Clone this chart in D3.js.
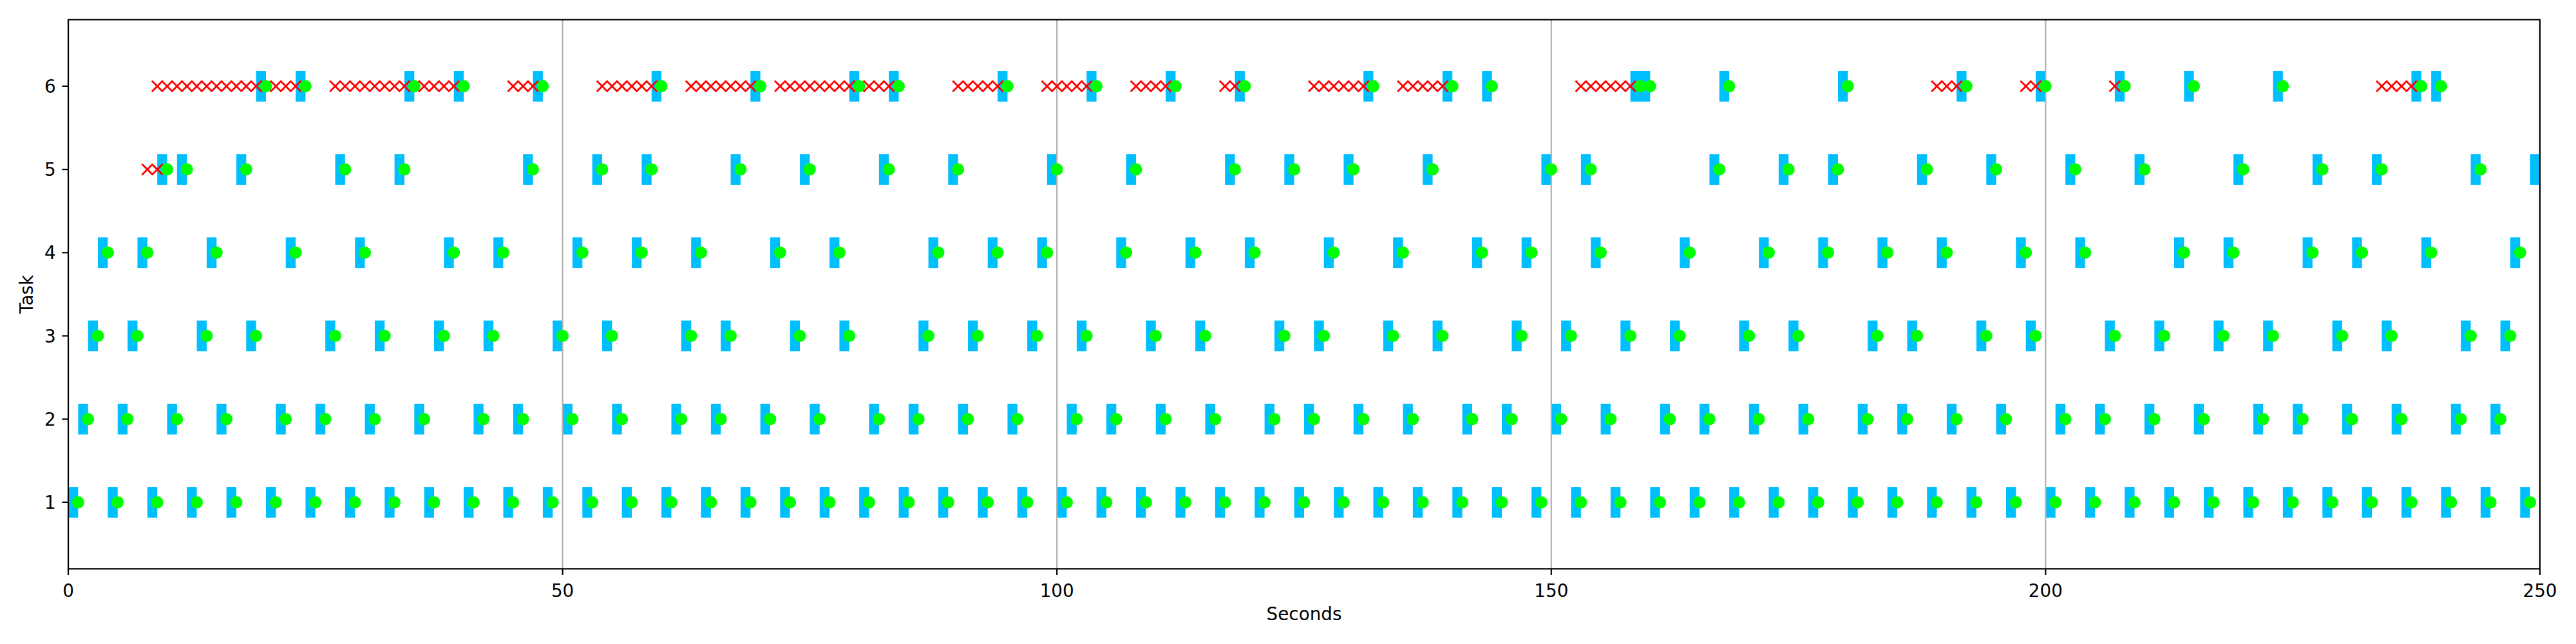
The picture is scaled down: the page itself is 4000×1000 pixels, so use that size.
<!DOCTYPE html>
<html>
<head>
<meta charset="utf-8">
<script src="https://cdn.jsdelivr.net/npm/d3@7"></script>
<style>
  html, body { margin: 0; padding: 0; background: #ffffff; }
  svg { display: block; }
</style>
</head>
<body>
<div id="chart"></div>
<script>
// ---------------- DATA ----------------
const tasks = [1, 2, 3, 4, 5, 6];
const xTicks = [0, 50, 100, 150, 200, 250];
const xTickLabels = ["0", "50", "100", "150", "200", "250"];
const yTickLabels = ["1", "2", "3", "4", "5", "6"];

// execution slots (start second of each 1-second run)
const runs1 = [0,4,8,12,16,20,24,28,32,36,40,44,48,52,56,60,64,68,72,76,80,84,88,92,96,100,104,108,112,116,120,124,128,132,136,140,144,148,152,156,160,164,168,172,176,180,184,188,192,196,200,204,208,212,216,220,224,228,232,236,240,244,248];
const runs2 = [1,5,10,15,21,25,30,35,41,45,50,55,61,65,70,75,81,85,90,95,101,105,110,115,121,125,130,135,141,145,150,155,161,165,170,175,181,185,190,195,201,205,210,215,221,225,230,235,241,245];
const runs3 = [2,6,13,18,26,31,37,42,49,54,62,66,73,78,86,91,97,102,109,114,122,126,133,138,146,151,157,162,169,174,182,186,193,198,206,211,217,222,229,234,242,246];
const runs4 = [3,7,14,22,29,38,43,51,57,63,71,77,87,93,98,106,113,119,127,134,142,147,154,163,171,177,183,189,197,203,213,218,226,231,238,247];
const runs5 = [9,11,17,27,33,46,53,58,67,74,82,89,99,107,117,123,129,137,149,153,166,173,178,187,194,202,209,219,227,233,243,249];
const runs6 = [19,23,34,39,47,59,69,79,83,94,103,111,118,131,139,143,158,159,167,179,191,199,207,214,223,237,239];

// job completions (green dots)
const done1 = [1,5,9,13,17,21,25,29,33,37,41,45,49,53,57,61,65,69,73,77,81,85,89,93,97,101,105,109,113,117,121,125,129,133,137,141,145,149,153,157,161,165,169,173,177,181,185,189,193,197,201,205,209,213,217,221,225,229,233,237,241,245,249];
const done2 = [2,6,11,16,22,26,31,36,42,46,51,56,62,66,71,76,82,86,91,96,102,106,111,116,122,126,131,136,142,146,151,156,162,166,171,176,182,186,191,196,202,206,211,216,222,226,231,236,242,246];
const done3 = [3,7,14,19,27,32,38,43,50,55,63,67,74,79,87,92,98,103,110,115,123,127,134,139,147,152,158,163,170,175,183,187,194,199,207,212,218,223,230,235,243,247];
const done4 = [4,8,15,23,30,39,44,52,58,64,72,78,88,94,99,107,114,120,128,135,143,148,155,164,172,178,184,190,198,204,214,219,227,232,239,248];
const done5 = [10,12,18,28,34,47,54,59,68,75,83,90,100,108,118,124,130,138,150,154,167,174,179,188,195,203,210,220,228,234,244];
const done6 = [20,24,35,40,48,60,70,80,84,95,104,112,119,132,140,144,159,160,168,180,192,200,208,215,224,238,240];

// waiting / missed seconds (red crosses)
const miss5 = [8,9];
const miss6 = [9,10,11,12,13,14,15,16,17,18,19,20,21,22,23,
               27,28,29,30,31,32,33,34,35,36,37,38,39,
               45,46,47,
               54,55,56,57,58,59,
               63,64,65,66,67,68,69,
               72,73,74,75,76,77,78,79,80,81,82,83,
               90,91,92,93,94,
               99,100,101,102,103,
               108,109,110,111,
               117,118,
               126,127,128,129,130,131,
               135,136,137,138,139,
               153,154,155,156,157,158,
               189,190,191,
               198,199,
               207,
               234,235,236,237];

const runsByTask = [runs1, runs2, runs3, runs4, runs5, runs6];
const doneByTask = [done1, done2, done3, done4, done5, done6];
const missByTask = [[], [], [], [], miss5, miss6];

// ---------------- LAYOUT ----------------
const W = 4000, H = 1000;
const L = 106, R = 3944, T = 30.5, B = 883.3;
const FONT = "'DejaVu Sans', 'Liberation Sans', sans-serif";
const FS = 27.8;

const x = d3.scaleLinear().domain([0, 250]).range([L, R]);
const y = d3.scaleLinear().domain([0.2, 6.8]).range([B, T]);

const svg = d3.select("#chart").append("svg")
  .attr("width", W).attr("height", H)
  .attr("viewBox", `0 0 ${W} ${H}`);

svg.append("rect").attr("width", W).attr("height", H).attr("fill", "#ffffff");

svg.append("defs").append("clipPath").attr("id", "plotclip")
  .append("rect").attr("x", L).attr("y", T).attr("width", R - L).attr("height", B - T);

const plot = svg.append("g").attr("clip-path", "url(#plotclip)");

// build flat records
const runRecs = [], doneRecs = [], missRecs = [];
tasks.forEach((tk, i) => {
  runsByTask[i].forEach(s => runRecs.push({ task: tk, t: s }));
  doneByTask[i].forEach(s => doneRecs.push({ task: tk, t: s }));
  missByTask[i].forEach(s => missRecs.push({ task: tk, t: s }));
});

const barHalf = 0.1845; // half bar height in task units

// blue execution bars
plot.append("g").selectAll("rect").data(runRecs).join("rect")
  .attr("x", d => x(d.t))
  .attr("width", d => x(d.t + 1) - x(d.t))
  .attr("y", d => y(d.task + barHalf))
  .attr("height", d => y(d.task - barHalf) - y(d.task + barHalf))
  .attr("fill", "#00bfff");

// vertical grid lines
plot.append("g").selectAll("line").data(xTicks).join("line")
  .attr("x1", d => x(d)).attr("x2", d => x(d))
  .attr("y1", T).attr("y2", B)
  .attr("stroke", "#b0b0b0").attr("stroke-width", 2.2);

// red crosses
const xh = 8.35;
const crossG = plot.append("g").attr("stroke", "#ff0000").attr("stroke-width", 2.78)
  .attr("stroke-linecap", "butt").attr("fill", "none");
crossG.selectAll("path").data(missRecs).join("path")
  .attr("d", d => {
    const cx = x(d.t), cy = y(d.task);
    return `M${cx - xh},${cy - xh}L${cx + xh},${cy + xh}M${cx - xh},${cy + xh}L${cx + xh},${cy - xh}`;
  });

// green completion dots
plot.append("g").selectAll("circle").data(doneRecs).join("circle")
  .attr("cx", d => x(d.t)).attr("cy", d => y(d.task))
  .attr("r", 9.5).attr("fill", "#00ff00");

// ---------------- AXES ----------------
const axisG = svg.append("g");

// x ticks
axisG.append("g").selectAll("line").data(xTicks).join("line")
  .attr("x1", d => x(d)).attr("x2", d => x(d))
  .attr("y1", B).attr("y2", B + 9.7)
  .attr("stroke", "#000").attr("stroke-width", 2.2);
axisG.append("g").selectAll("text").data(xTicks).join("text")
  .attr("x", d => x(d)).attr("y", 926.5)
  .attr("text-anchor", "middle")
  .attr("font-family", FONT).attr("font-size", FS).attr("fill", "#000")
  .text((d, i) => xTickLabels[i]);

// y ticks
axisG.append("g").selectAll("line").data(tasks).join("line")
  .attr("x1", L - 9.7).attr("x2", L)
  .attr("y1", d => y(d)).attr("y2", d => y(d))
  .attr("stroke", "#000").attr("stroke-width", 2.2);
axisG.append("g").selectAll("text").data(tasks).join("text")
  .attr("x", L - 19.4).attr("y", d => y(d) + 10.1)
  .attr("text-anchor", "end")
  .attr("font-family", FONT).attr("font-size", FS).attr("fill", "#000")
  .text((d, i) => yTickLabels[i]);

// spines
axisG.append("rect")
  .attr("x", L).attr("y", T).attr("width", R - L).attr("height", B - T)
  .attr("fill", "none").attr("stroke", "#000").attr("stroke-width", 2.2)
  .attr("stroke-linecap", "square");

// axis labels
svg.append("text")
  .attr("x", (L + R) / 2).attr("y", 963.3)
  .attr("text-anchor", "middle")
  .attr("font-family", FONT).attr("font-size", FS).attr("fill", "#000")
  .text("Seconds");

svg.append("text")
  .attr("transform", `translate(51.3, ${(T + B) / 2}) rotate(-90)`)
  .attr("text-anchor", "middle")
  .attr("font-family", FONT).attr("font-size", FS).attr("fill", "#000")
  .text("Task");
</script>
</body>
</html>
